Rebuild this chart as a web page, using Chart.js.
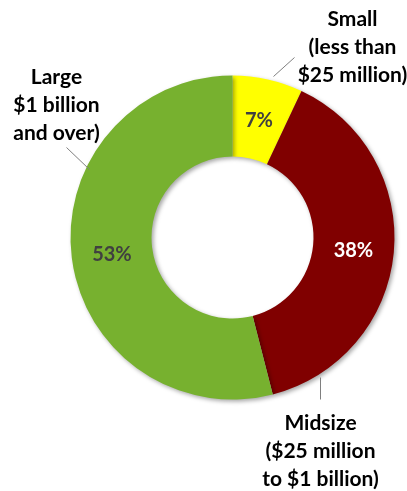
<!DOCTYPE html>
<html>
<head>
<meta charset="utf-8">
<script src="https://cdn.jsdelivr.net/npm/chart.js@4.4.1/dist/chart.umd.min.js"></script>
<style>
  html, body { margin: 0; padding: 0; background: #fff; }
  #wrap { width: 407px; height: 491px; position: relative; }
</style>
</head>
<body>
<div id="wrap"><canvas id="donut"></canvas></div>
<script>
// Company size share - doughnut
// slices start at 12 o'clock and run clockwise
const categories = ['Small', 'Midsize', 'Large'];
const shares = [7, 39, 54];
const pctLabels = ['7%', '38%', '53%'];
const sliceColors = ['#FFFF00', '#800000', '#77B12F'];
const pctColors = ['#404040', '#FFFFFF', '#404040'];
const categoryText = [
    ['Small', '(less than', '$25 million)'],
    ['Midsize', '($25 million', 'to $1 billion)'],
    ['Large', '$1 billion', 'and over)']
];

const FONT = 'Lato, "Open Sans", sans-serif';

// category label anchors relative to the ring centre
const catPos = [[120, -218], [88, 186], [-176, -160]];
const leaders = [
    [[41, -161], [62, -180]],
    [[88, 140], [88, 162]],
    [[-166, -90], [-143, -68]]
];

// soft drop shadow under the ring
const shadowPlugin = {
    id: 'ringShadow',
    beforeDatasetsDraw(chart) {
        const ctx = chart.ctx;
        ctx.save();
        ctx.shadowColor = 'rgba(0,0,0,0.35)';
        ctx.shadowBlur = 4;
        ctx.shadowOffsetX = 2;
        ctx.shadowOffsetY = 2;
    },
    afterDatasetsDraw(chart) {
        chart.ctx.restore();
    }
};

// percentages, category names and leader lines
const labelPlugin = {
    id: 'ringLabels',
    afterDraw(chart) {
        const ctx = chart.ctx;
        const arcs = chart.getDatasetMeta(0).data;
        const cx = arcs[0].x, cy = arcs[0].y;
        ctx.save();
        ctx.textAlign = 'center';
        ctx.textBaseline = 'middle';

        ctx.font = 'bold 20px ' + FONT;
        arcs.forEach((arc, i) => {
            const p = arc.tooltipPosition();
            ctx.fillStyle = pctColors[i];
            ctx.fillText(pctLabels[i], p.x, p.y + 2);
        });

        ctx.strokeStyle = '#7f7f7f';
        ctx.lineWidth = 1;
        leaders.forEach(l => {
            ctx.beginPath();
            ctx.moveTo(cx + l[0][0], cy + l[0][1]);
            ctx.lineTo(cx + l[1][0], cy + l[1][1]);
            ctx.stroke();
        });

        ctx.font = 'bold 21px ' + FONT;
        ctx.fillStyle = '#000';
        categoryText.forEach((lines, i) => {
            lines.forEach((ln, j) => {
                ctx.fillText(ln, cx + catPos[i][0], cy + catPos[i][1] + j * 28);
            });
        });
        ctx.restore();
    }
};

new Chart(document.getElementById('donut'), {
    type: 'doughnut',
    data: {
        labels: categories,
        datasets: [{
            data: shares,
            backgroundColor: sliceColors,
            borderWidth: 0,
            hoverOffset: 0
        }]
    },
    options: {
        responsive: true,
        maintainAspectRatio: false,
        animation: false,
        cutout: '50%',
        layout: {
            padding: { left: 70.5, right: 12.5, top: 75.5, bottom: 91.5 }
        },
        plugins: {
            legend: { display: false },
            tooltip: { enabled: false }
        },
        events: []
    },
    plugins: [shadowPlugin, labelPlugin]
});
</script>
</body>
</html>
